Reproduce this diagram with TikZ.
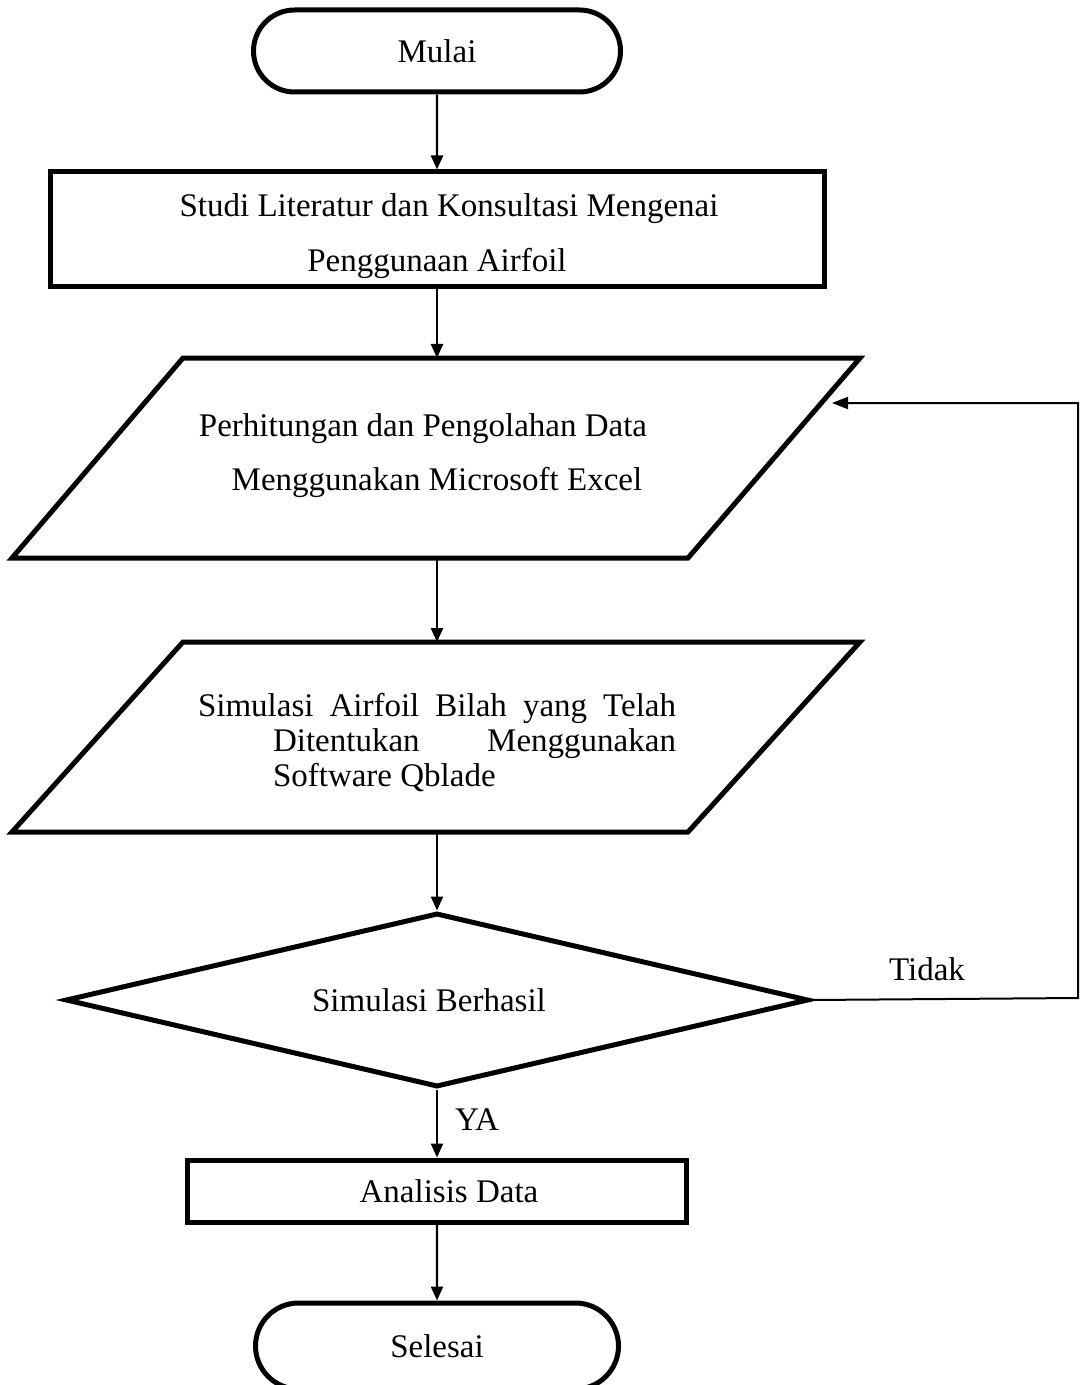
\documentclass[tikz,border=0pt]{standalone}
\usepackage{fontspec}
\setmainfont{Liberation Serif}
\usetikzlibrary{shapes.geometric,shapes.misc,arrows.meta,calc}
\begin{document}
\begin{tikzpicture}[x=0.5pt,y=-0.5pt,
  every node/.style={font=\fontsize{16.5}{20}\selectfont},
  term/.style={rounded rectangle, draw, line width=2.5pt, minimum width=183.5pt, minimum height=41pt, inner sep=0pt},
  procbox/.style={rectangle, draw, line width=2.5pt, inner sep=0pt},
  ioshape/.style={draw, line width=2.5pt, line join=miter},
  iotext/.style={inner sep=0pt},
  decide/.style={diamond, draw, line width=2.5pt, inner sep=0pt, aspect=4.27, minimum width=371.5pt, minimum height=87pt},
  conn/.style={line width=1.2pt, -{Triangle[length=7pt,width=6pt]}},
  fb/.style={line width=1pt, -{Triangle[length=8pt,width=6pt]}},
  lbl/.style={inner sep=0pt}
]
\useasboundingbox (0,0) rectangle (1080,1385);

% terminals and boxes
\node[term] (start) at (437,51) {Mulai};
\node[procbox, minimum width=387pt, minimum height=57.5pt, align=center, font=\fontsize{16.5}{27.5}\selectfont] (b1) at (437,229.5)
  {\rule{0pt}{18.5pt}\hspace*{12pt}Studi Literatur dan Konsultasi Mengenai\\Penggunaan Airfoil};

% parallelogram 1
\draw[ioshape] (183,358) -- (860,358) -- (688,558) -- (12,558) -- cycle;
\coordinate (p1n) at (437,358);
\coordinate (p1s) at (437,558);
\node[iotext, align=center, font=\fontsize{16.5}{27}\selectfont] (p1) at (437,456)
  {Perhitungan dan Pengolahan Data\hspace*{14pt}\\Menggunakan Microsoft Excel};

% parallelogram 2
\draw[ioshape] (183,642) -- (860,642) -- (688,832) -- (12,832) -- cycle;
\coordinate (p2n) at (437,642);
\coordinate (p2s) at (437,832);
\node[iotext, align=left, font=\fontsize{16.5}{17.5}\selectfont] (p2) at (437,743)
  {\makebox[239pt][s]{Simulasi Airfoil Bilah yang Telah}\\\hspace*{37.5pt}\makebox[201.5pt][s]{Ditentukan Menggunakan}\\\hspace*{37.5pt}Software Qblade};

\node[decide] (d) at (437,1000) {Simulasi Berhasil\hspace*{8pt}};
\node[procbox, minimum width=249.5pt, minimum height=31pt] (b2) at (437,1191) {\hspace*{12pt}Analisis Data};
\node[term, minimum width=181.5pt, minimum height=43pt] (end) at (437,1346) {Selesai};

\node[lbl] (ya) at (477,1120) {YA};
\node[lbl] (tidak) at (927,969) {Tidak};

\coordinate (fr) at (1078,998);
\coordinate (ft) at (1078,403);
\coordinate (fe) at (832,403);

\draw[conn] (start) -- (b1);
\draw[conn] (b1) -- (p1n);
\draw[conn] (p1s) -- (p2n);
\draw[conn] (p2s) -- (d);
\draw[conn] (d) -- (b2);
\draw[conn] (b2) -- (end);
\draw[fb] (d.east) -- (fr) -- (ft) -- (fe);
\end{tikzpicture}
\end{document}
